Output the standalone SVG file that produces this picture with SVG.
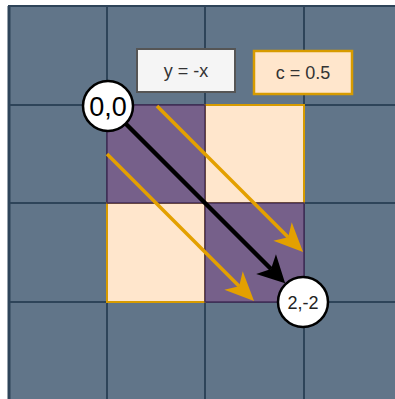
<svg xmlns="http://www.w3.org/2000/svg" width="395" height="399" viewBox="0 0 395 399">
<style>
.grid{fill:#617589;stroke:#2e4459;stroke-width:2}
.gl{stroke:#2e4459;stroke-width:2}
.purple{fill:#76608a;stroke:#432d57;stroke-width:1.5}
.peach{fill:#ffe6cc;stroke:#d79b00;stroke-width:2}
.lbl{font-family:"Liberation Sans",Arial,sans-serif;fill:#333;text-anchor:middle}
.node{fill:#fff;stroke:#000;stroke-width:2.5}
.orange{stroke:#e3a000;stroke-width:3.5;fill:none}
.black{stroke:#000;stroke-width:4.5;fill:none}
</style>
<defs>
<marker id="ah-black" markerUnits="userSpaceOnUse" orient="auto" refX="7" refY="0" markerWidth="30" markerHeight="30" viewBox="0 -15 30 30" overflow="visible">
<path d="M0,-14 L27,0 L0,14 L7,0 Z" fill="#000"/>
</marker>
<marker id="ah-orange" markerUnits="userSpaceOnUse" orient="auto" refX="8" refY="0" markerWidth="32" markerHeight="30" viewBox="0 -15 32 30" overflow="visible">
<path d="M0,-13 L29,0 L0,13 L8,0 Z" fill="#e3a000"/>
</marker>
</defs>
<rect x="0" y="0" width="395" height="399" fill="#fff"/>
<g id="grid">
<rect x="8" y="6" width="400" height="400" fill="#617589"/>
<line class="gl" x1="8" y1="6" x2="395" y2="6"/>
<line class="gl" x1="9" y1="6" x2="9" y2="399" style="stroke-width:3"/>
<line class="gl" x1="107" y1="6" x2="107" y2="399"/>
<line class="gl" x1="205" y1="6" x2="205" y2="399"/>
<line class="gl" x1="304" y1="6" x2="304" y2="399"/>
<line class="gl" x1="8" y1="105" x2="395" y2="105"/>
<line class="gl" x1="8" y1="203" x2="395" y2="203"/>
<line class="gl" x1="8" y1="302" x2="395" y2="302"/>
</g>
<g id="cell-peach-tr"><rect class="peach" x="205" y="105" width="99" height="98"/></g>
<g id="cell-peach-bl"><rect class="peach" x="107" y="203" width="98" height="99"/></g>
<g id="cell-purple-tl"><rect class="purple" x="107" y="105" width="98" height="98"/></g>
<g id="cell-purple-br"><rect class="purple" x="205" y="203" width="99" height="99"/></g>
<g id="label-yx">
<rect x="137" y="49" width="98" height="43" fill="#f5f5f5" stroke="#555" stroke-width="2"/>
<text class="lbl" x="186" y="77" font-size="18">y = -x</text>
</g>
<g id="label-c">
<rect x="254" y="51" width="98" height="43" fill="#ffe6cc" stroke="#d79b00" stroke-width="2.5"/>
<text class="lbl" x="303" y="79" font-size="18">c = 0.5</text>
</g>
<g id="connectors">
<line class="orange" x1="157" y1="106" x2="288.2" y2="237.2" marker-end="url(#ah-orange)"/>
<line class="orange" x1="107" y1="154" x2="239.2" y2="286.2" marker-end="url(#ah-orange)"/>
<line class="black" x1="108" y1="106" x2="271" y2="269" marker-end="url(#ah-black)"/>
</g>
<g id="node-00">
<circle class="node" cx="108" cy="106" r="25"/>
<text x="108" y="115.5" font-family="'Liberation Sans',Arial,sans-serif" font-size="27" text-anchor="middle" fill="#000">0,0</text>
</g>
<g id="node-2m2">
<circle class="node" cx="303" cy="302" r="25"/>
<text x="303" y="308.5" font-family="'Liberation Sans',Arial,sans-serif" font-size="18" text-anchor="middle" fill="#222">2,-2</text>
</g>
</svg>
